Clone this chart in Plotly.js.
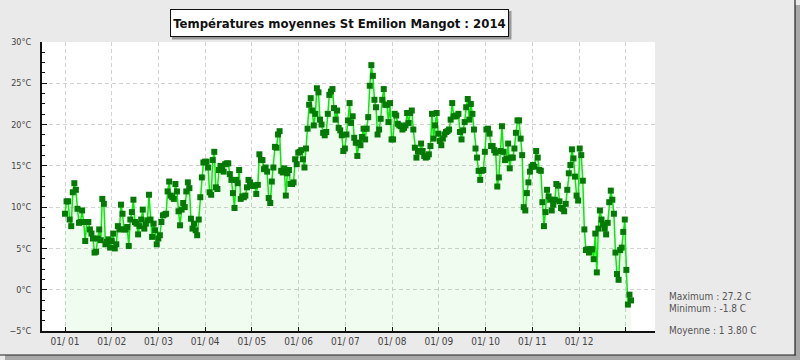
<!DOCTYPE html>
<html>
<head>
<meta charset="utf-8">
<script src="https://cdn.plot.ly/plotly-3.0.1.min.js"></script>
<style>
html,body{margin:0;padding:0;background:#ffffff;}
#chart{width:800px;height:360px;}
</style>
</head>
<body>
<div id="chart"></div>
<script>
// Daily mean temperatures (°C), St Emilion Mangot, 2014
const jan = [9.2,10.7,10.7,8.5,7.7,11.8,12.9,12.1,9.8,8.1,8.2,9.6,8.2,5.9,8.2,8.2,7.3,6.8,6.2,4.5,4.6,6.2,7.3,6.0,11.0,10.4,5.5,5.8,6.1,5.1,5.9];
const feb = [6.8,5.0,5.5,7.7,7.3,10.3,9.2,7.3,7.3,7.6,5.3,8.5,9.4,10.9,8.2,8.0,6.7,7.7,8.5,9.7,7.4,8.0,8.4,11.5,8.5,6.4,8.0,7.2];
const mar = [5.5,6.2,6.6,8.2,9.0,9.1,9.2,11.9,13.1,11.4,11.2,11.0,12.8,11.9,9.5,7.8,9.7,10.5,10.0,11.9,13.0,12.3,8.6,7.4,8.0,7.2,6.6,8.5,11.2,13.6,15.4];
const apr = [15.5,15.5,14.8,11.8,11.5,15.7,16.7,12.4,12.2,14.5,15.0,14.7,14.3,15.2,15.3,15.3,14.0,13.3,11.7,9.9,13.3,12.9,14.5,11.0,11.3,11.2,11.4,12.4,13.3,13.0];
const may = [12.6,12.6,12.6,11.6,12.7,16.4,15.7,15.7,14.6,14.8,14.3,11.1,10.5,13.1,14.8,17.3,17.2,18.8,19.2,14.4,14.2,14.7,11.4,14.1,14.5,12.8,12.8,13.0,15.8,15.2,16.6];
const jun = [16.7,16.9,15.8,14.8,17.1,19.5,22.4,23.2,21.7,19.9,21.3,24.4,23.9,20.6,20.0,19.0,18.7,19.1,21.3,23.6,24.0,24.3,22.0,20.6,21.7,19.6,19.3,18.7,16.8,17.1];
const jul = [18.8,20.5,22.6,20.2,21.0,18.4,17.8,16.2,17.8,17.5,18.5,19.5,18.2,19.5,20.9,24.7,27.2,25.9,23.0,22.1,18.8,19.4,20.7,23.0,24.3,22.4,22.4,20.3,22.6,18.2,18.2];
const aug = [21.3,21.1,20.1,19.9,19.8,19.4,19.6,19.9,21.4,20.2,21.4,21.7,19.4,17.2,16.0,16.8,16.7,17.7,16.8,16.2,16.0,16.1,16.4,17.4,21.3,18.3,19.9,21.4,18.9,18.0,17.5];
const sep = [18.3,18.8,19.1,19.2,19.4,20.6,22.6,21.0,21.0,21.1,21.3,19.1,18.2,19.3,20.3,22.1,23.1,20.6,22.5,21.3,19.4,17.1,16.0,14.4,13.3,14.4,14.5,16.7,19.4,19.5];
const oct = [18.9,17.4,17.4,16.9,16.6,12.5,13.6,16.8,19.8,16.7,15.7,15.9,17.7,14.7,16.0,16.0,17.1,19.0,20.5,20.5,18.3,16.3,10.0,9.6,11.7,13.0,14.3,14.9,15.1,14.9,16.8];
const nov = [16.0,14.5,14.4,10.6,7.7,9.4,12.1,11.3,10.9,9.6,10.3,10.9,12.8,12.6,10.7,9.9,9.8,9.5,10.4,12.1,14.1,15.1,17.0,15.9,13.7,11.4,10.8,17.1,16.3,13.2];
const dec = [7.3,4.8,4.9,4.5,4.9,4.9,3.7,6.8,2.1,7.4,9.6,8.5,7.9,7.4,6.7,8.1,10.6,12.0,10.9,9.2,4.5,1.9,1.2,4.8,5.1,7.0,8.5,2.4,-1.8,-0.6,-1.3];

const monthLabels = ["01/ 01","01/ 02","01/ 03","01/ 04","01/ 05","01/ 06","01/ 07","01/ 08","01/ 09","01/ 10","01/ 11","01/ 12",""];
const titleText = "Températures moyennes St Emilion Mangot : 2014";
const statLines = ["Maximum : 27.2 C","Minimum : -1.8 C","Moyenne : 1 3.80 C"];
const Y_MIN = -5, Y_MAX = 30;

const temps = [].concat(jan,feb,mar,apr,may,jun,jul,aug,sep,oct,nov,dec);
const days = temps.map((_,i)=>i);
const baseline = temps.map(()=>Y_MIN);

// geometry (pixels)
const W=800,H=360, L=42, R=145, T=42, B=29;
const PW=W-L-R, PH=H-T-B;
const pxPerDay = 1.555;
const x0 = -(65-L)/pxPerDay;
const x1 = x0 + PW/pxPerDay;
const monthStep = 46.73/pxPerDay;
const tickvals = monthLabels.map((_,k)=>k*monthStep);

const px = v => (v-L)/PW;
const py = v => (H-B-v)/PH;

const font = "'Liberation Sans Narrow','DejaVu Sans Condensed','Arial Narrow',sans-serif";

const traces = [
  {x:days, y:baseline, type:'scatter', mode:'lines', line:{width:0,color:'rgba(0,0,0,0)'}, hoverinfo:'skip', showlegend:false},
  {x:days, y:temps, type:'scatter', mode:'lines+markers', fill:'tonexty',
   fillcolor:'rgba(0,200,0,0.055)',
   line:{color:'#00ee00', width:1.5},
   marker:{symbol:'square', size:6, color:'#037a03'},
   showlegend:false}
];

const layout = {
  width:W, height:H,
  margin:{l:L, r:R, t:T, b:B, pad:0},
  paper_bgcolor:'#eaeaea',
  plot_bgcolor:'#ffffff',
  showlegend:false,
  font:{family:font, size:9, color:'#444'},
  xaxis:{
    range:[x0,x1], tickvals:tickvals, ticktext:monthLabels,
    showgrid:true, gridcolor:'#d2d2d2', griddash:'4px,3px', gridwidth:1,
    zeroline:false, showline:true, linecolor:'#111', linewidth:2,
    ticks:'inside', ticklen:4, tickcolor:'#111',
    tickfont:{family:font, size:10, color:'#444'}, fixedrange:true
  },
  yaxis:{
    range:[Y_MIN,Y_MAX], dtick:5, tick0:0, ticksuffix:'°C',
    showgrid:true, gridcolor:'#d2d2d2', griddash:'4px,3px', gridwidth:1,
    zeroline:false, showline:true, linecolor:'#111', linewidth:2,
    ticks:'inside', ticklen:5, tickcolor:'#111', ticklabelstandoff:7,
    minor:{dtick:1.25, ticks:'inside', ticklen:3, tickcolor:'#111', showgrid:false},
    tickfont:{family:font, size:9, color:'#444'}, fixedrange:true
  },
  shapes:[
    {type:'rect', xref:'paper', yref:'paper', x0:px(795), x1:px(800), y0:py(5), y1:py(360), fillcolor:'#a8a8a8', line:{width:0}, layer:'below'},
    {type:'rect', xref:'paper', yref:'paper', x0:px(5), x1:px(800), y0:py(355), y1:py(360), fillcolor:'#a8a8a8', line:{width:0}, layer:'below'},
    {type:'line', xref:'paper', yref:'paper', x0:px(795), x1:px(795), y0:py(0), y1:py(355.5), line:{color:'#222', width:1.2}},
    {type:'line', xref:'paper', yref:'paper', x0:px(0), x1:px(795.5), y0:py(355), y1:py(355), line:{color:'#222', width:1.2}},
    {type:'rect', xref:'paper', yref:'paper', x0:px(172), x1:px(511.5), y0:py(11), y1:py(39.5), fillcolor:'#999', line:{width:0}}
  ],
  annotations:[
    {xref:'paper', yref:'paper', x:px(339.5), y:py(23), xanchor:'center', yanchor:'middle',
     text:'<b>'+titleText+'</b>', showarrow:false, bgcolor:'#ffffff', bordercolor:'#111', borderwidth:1,
     width:335, height:24, borderpad:1,
     font:{family:font, size:13, color:'#111'}},
    {xref:'paper', yref:'paper', x:px(667), y:py(296), xanchor:'left', yanchor:'middle', text:statLines[0], showarrow:false, font:{family:font, size:10, color:'#555'}},
    {xref:'paper', yref:'paper', x:px(667), y:py(308), xanchor:'left', yanchor:'middle', text:statLines[1], showarrow:false, font:{family:font, size:10, color:'#555'}},
    {xref:'paper', yref:'paper', x:px(667), y:py(330), xanchor:'left', yanchor:'middle', text:statLines[2], showarrow:false, font:{family:font, size:10, color:'#555'}}
  ]
};

Plotly.newPlot('chart', traces, layout, {staticPlot:true, displayModeBar:false});
</script>
</body>
</html>
